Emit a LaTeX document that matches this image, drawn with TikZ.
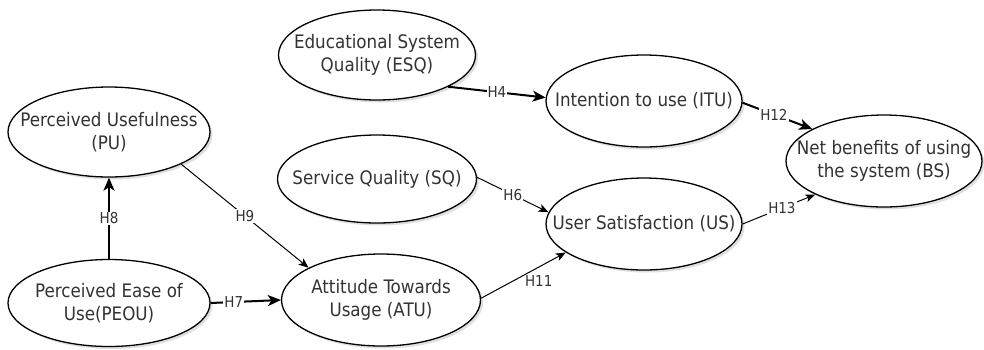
\documentclass[tikz,border=0pt]{standalone}
\usepackage{fontspec}
\setmainfont{DejaVu Sans Condensed}
\usetikzlibrary{shapes.geometric,shadows,arrows.meta}
\definecolor{txtc}{HTML}{333333}
\begin{document}
\begin{tikzpicture}[x=1pt,y=-1pt,
  ell/.style={ellipse,draw=black,line width=1.3pt,fill=white,inner sep=0pt,
    minimum width=198pt,minimum height=90pt,
    drop shadow={opacity=0.25,shadow xshift=2.5pt,shadow yshift=-2.5pt}},
  etext/.style={align=center,inner sep=0pt,text=txtc,font=\fontsize{18.6}{23}\selectfont},
  lab/.style={fill=white,inner sep=1pt,text=txtc,font=\fontsize{15}{16}\selectfont},
  thk/.style={line width=2pt,-{Stealth[length=13pt,width=11pt,inset=3.5pt]}},
  thn/.style={line width=1pt,-{Stealth[length=10pt,width=8pt,inset=2.5pt]}}
]
\useasboundingbox[fill=white] (0,0) rectangle (984,349);

% ellipses
\node[ell,minimum width=202pt] (pu) at (109,132) {};
\node[etext] (put) at (pu) {Perceived Usefulness\\(PU)};
\node[ell,minimum width=202pt,minimum height=87pt] (peou) at (109,303) {};
\node[etext] (peout) at (peou) {Perceived Ease of\\Use(PEOU)};
\node[ell,minimum width=199pt,minimum height=92pt] (atu) at (381,300) {};
\node[etext] (atut) at (atu) {Attitude Towards\\Usage (ATU)};
\node[ell,minimum width=199pt,minimum height=88pt] (sq) at (377,179) {};
\node[etext] (sqt) at (sq) {Service Quality (SQ)};
\node[ell,minimum width=197pt,minimum height=90pt] (esq) at (377,55) {};
\node[etext] (esqt) at (esq) {Educational System\\Quality (ESQ)};
\node[ell,minimum width=196pt,minimum height=92pt] (itu) at (644,101) {};
\node[etext] (itut) at (itu) {Intention to use (ITU)};
\node[ell,minimum width=196pt,minimum height=92pt] (us) at (644,224) {};
\node[etext] (ust) at (us) {User Satisfaction (US)};
\node[ell,minimum width=196pt,minimum height=92pt] (bs) at (884,161) {};
\node[etext] (bst) at (bs) {Net benefits of using\\the system (BS)};

% connectors
\draw[thk] (peou.north) -- node[lab,pos=0.5] (h8) {H8} (pu.south);
\draw[thk] (peou.east) -- node[lab,pos=0.33] (h7) {H7} (atu.west);
\draw[thn] (pu.-24) -- node[lab,pos=0.5] (h9) {H9} (atu.156);
\draw[thn] (sq.1) -- node[lab,pos=0.5] (h6) {H6} (us.173);
\draw[thn] (atu.1) -- node[lab,fill=none,pos=0.68,anchor=north,yshift=-7pt] (h11) {H11} (us.-160);
\draw[thk] (esq.-24) -- node[lab,pos=0.5] (h4) {H4} (itu.178);
\draw[thk] (itu.-1) -- node[lab,pos=0.45] (h12) {H12} (bs.156);
\draw[thn] (us.0) -- node[lab,pos=0.54] (h13) {H13} (bs.-154);
\end{tikzpicture}
\end{document}
